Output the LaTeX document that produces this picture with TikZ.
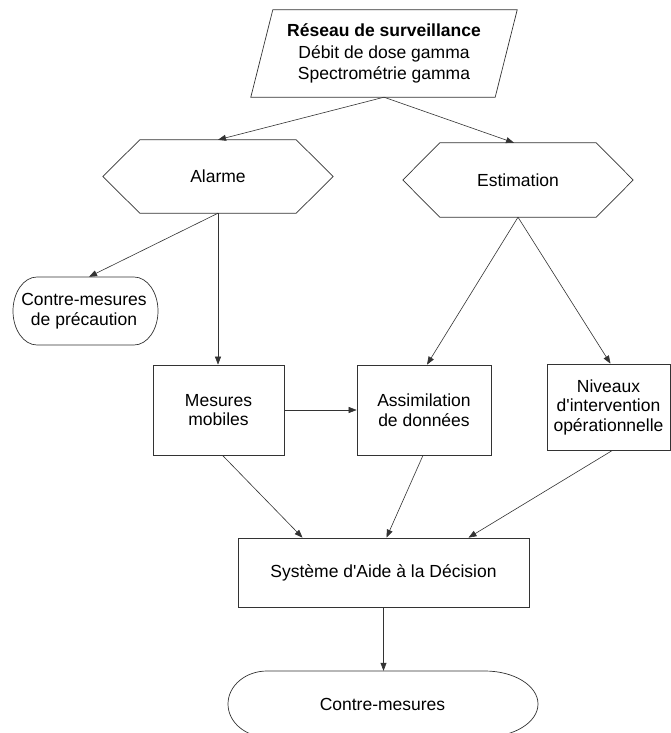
\documentclass[tikz,border=0pt]{standalone}
\usepackage{fontspec}
\setmainfont{Liberation Sans}
\usetikzlibrary{arrows.meta}
\begin{document}
\begin{tikzpicture}[x=1pt,y=-1pt,
  txt/.style={font=\fontsize{17.5}{19.5}\selectfont, align=center, inner sep=0pt, draw=none},
  shp/.style={draw=black!80, line width=0.7pt},
  con/.style={draw=black!80, line width=0.6pt, -{Triangle[length=8pt,width=6pt]}}]
\useasboundingbox (0,0) rectangle (671,733);
\clip (0,0) rectangle (671,733);
\fill[white] (0,0) rectangle (671,733);

% nodes (boxes)
\node[txt, minimum width=244pt, minimum height=87pt, font=\fontsize{17.5}{21.5}\selectfont] (res) at (384,53.5)
  {\textbf{Réseau de surveillance}\\Débit de dose gamma\\Spectrométrie gamma};
\node[txt, minimum width=230pt, minimum height=73pt] (al) at (218,176.5) {Alarme};
\node[txt, minimum width=230pt, minimum height=74pt] (es) at (518,180) {Estimation};
\node[txt, minimum width=145pt, minimum height=68pt] (cp) at (84,311) {Contre-mesures\\de précaution};
\node[txt, shp, minimum width=131pt, minimum height=90pt] (mm) at (218.5,410) {Mesures\\mobiles};
\node[txt, shp, minimum width=134pt, minimum height=90pt] (ad) at (424,410) {Assimilation\\de données};
\node[txt, shp, minimum width=123pt, minimum height=86pt] (ni) at (608.5,407) {Niveaux\\d\textquotesingle intervention\\opérationnelle};
\node[txt, shp, minimum width=291pt, minimum height=69pt] (sy) at (383.5,572.5) {Système d\textquotesingle Aide à la Décision};
\node[txt, minimum width=310pt, minimum height=66pt] (cm) at (382.5,704) {Contre-mesures};

% outlines
\draw[shp] ([xshift=11pt]res.north west) -- ([xshift=11pt]res.north east)
  -- ([xshift=-11pt]res.south east) -- ([xshift=-11pt]res.south west) -- cycle;
\draw[shp] (al.west) -- ([xshift=37pt]al.north west) -- ([xshift=-37pt]al.north east)
  -- (al.east) -- ([xshift=-37pt]al.south east) -- ([xshift=37pt]al.south west) -- cycle;
\draw[shp] (es.west) -- ([xshift=37pt]es.north west) -- ([xshift=-37pt]es.north east)
  -- (es.east) -- ([xshift=-37pt]es.south east) -- ([xshift=37pt]es.south west) -- cycle;
\draw[shp] (37,277) -- (134,277) arc[start angle=90,end angle=-90,x radius=24pt,y radius=34pt]
  -- (37,345) arc[start angle=270,end angle=90,x radius=24pt,y radius=34pt] -- cycle;
\draw[shp] (267,671) -- (485,671) arc[start angle=90,end angle=-90,x radius=53pt,y radius=33pt]
  -- (267,737) arc[start angle=270,end angle=90,x radius=39pt,y radius=33pt] -- cycle;

% connectors
\draw[con] (res.south) -- (al.north);
\draw[con] (res.south) -- ([xshift=-4pt]es.north);
\draw[con] (al.south) -- ([xshift=5pt]cp.north);
\draw[con] (al.south) -- (mm.north -| al.south);
\draw[con] (es.south) -- ([xshift=3pt]ad.north);
\draw[con] (es.south) -- ([xshift=2pt]ni.north);
\draw[con] (mm.east) -- (ad.west);
\draw[con] ([xshift=4pt]mm.south) -- ([xshift=-81pt]sy.north);
\draw[con] ([xshift=-1pt]ad.south) -- ([xshift=3pt]sy.north);
\draw[con] ([xshift=4pt]ni.south) -- ([xshift=85pt]sy.north);
\draw[con] (sy.south) -- (sy.south |- cm.north);
\end{tikzpicture}
\end{document}
